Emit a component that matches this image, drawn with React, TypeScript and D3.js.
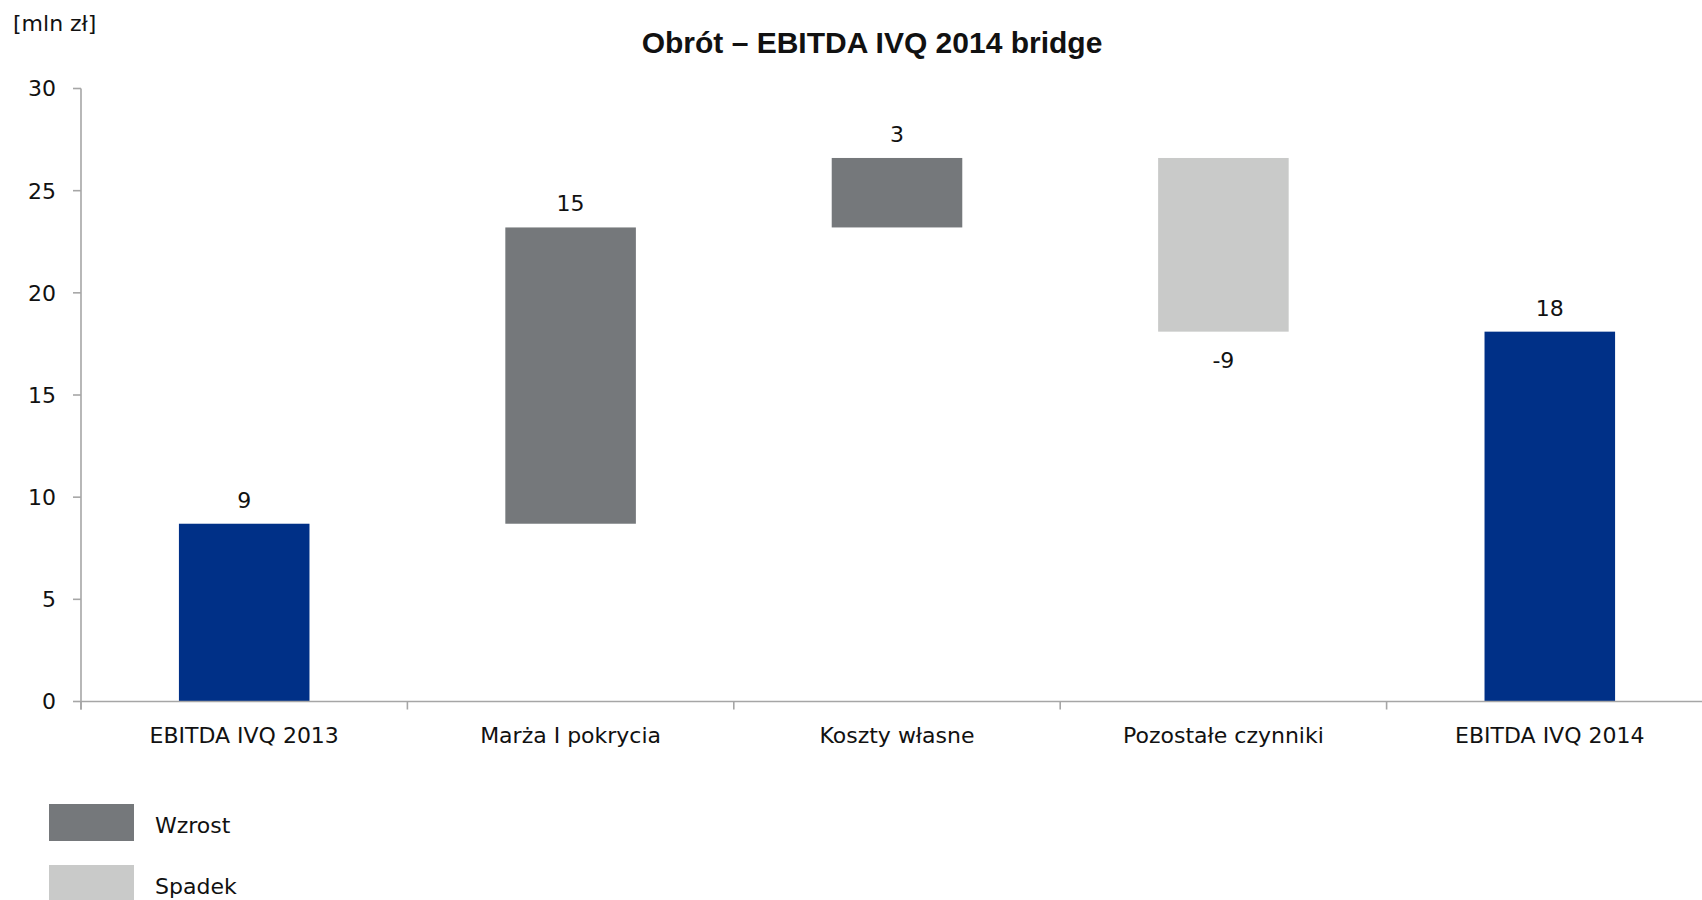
import React from "react";
import * as d3 from "d3";

// Bridge steps: opening total, changes, closing total (mln zł)
const categories = [
  "EBITDA IVQ 2013",
  "Marża I pokrycia",
  "Koszty własne",
  "Pozostałe czynniki",
  "EBITDA IVQ 2014",
];
const stepKinds = ["total", "delta", "delta", "delta", "total"];
const stepValues = [8.7, 14.5, 3.4, -8.5, 18.1];
const yTickValues = [0, 5, 10, 15, 20, 25, 30];
const legendItems = ["Wzrost", "Spadek"];

const W = 1702;
const H = 900;
const FONT = "'DejaVu Sans', 'Noto Sans', sans-serif";
const TITLE_FONT = "'Liberation Sans', Arial, sans-serif";
const COLORS = {
  total: "#003087",
  up: "#75787B",
  down: "#C9CAC9",
  axis: "#A6A6A6",
  text: "#111111",
};

// Excel-style rounding (half away from zero) for the value labels
const fmt = (v: number) => String(Math.sign(v) * Math.round(Math.abs(v)));

export default function App() {
  const margin = { left: 81, right: W + 11, top: 88.5, bottom: 701.5 };

  const x = d3
    .scaleBand<string>()
    .domain(categories)
    .range([margin.left, margin.right])
    .paddingInner(0.6)
    .paddingOuter(0.3);

  const y = d3.scaleLinear().domain([0, 30]).range([margin.bottom, margin.top]);

  // Running sums give each floating bar its start and end
  let running = 0;
  const bars = categories.map((c, i) => {
    const kind = stepKinds[i];
    const v = stepValues[i];
    let y0: number, y1: number;
    if (kind === "total") {
      y0 = 0;
      y1 = v;
      running = v;
    } else {
      y0 = running;
      y1 = running + v;
      running = y1;
    }
    const fill = kind === "total" ? COLORS.total : v >= 0 ? COLORS.up : COLORS.down;
    return { c, kind, v, y0, y1, fill };
  });

  const step = x.step();
  const boundaries = d3.range(categories.length + 1).map(
    (i) => margin.left + i * step
  );

  const fs = 22;

  return (
    <svg
      width={W}
      height={H}
      style={{ position: "absolute", left: 0, top: 0, background: "#fff" }}
      fontFamily={FONT}
    >
      <rect x={0} y={0} width={W} height={H} fill="#fff" />

      {/* unit label and title */}
      <text x={13} y={31} fontSize={fs} fill={COLORS.text}>
        [mln zł]
      </text>
      <text
        x={872}
        y={53}
        fontSize={30}
        fontFamily={TITLE_FONT}
        fontWeight="bold"
        textAnchor="middle"
        fill={COLORS.text}
      >
        Obrót – EBITDA IVQ 2014 bridge
      </text>

      {/* y axis */}
      <line
        x1={margin.left}
        x2={margin.left}
        y1={y(30)}
        y2={y(0) + 8}
        stroke={COLORS.axis}
        strokeWidth={1.6}
      />
      {yTickValues.map((t) => (
        <g key={t}>
          <line
            x1={margin.left - 8}
            x2={margin.left}
            y1={y(t)}
            y2={y(t)}
            stroke={COLORS.axis}
            strokeWidth={1.6}
          />
          <text
            x={margin.left - 25}
            y={y(t)}
            dy="0.36em"
            fontSize={fs}
            textAnchor="end"
            fill={COLORS.text}
          >
            {t}
          </text>
        </g>
      ))}

      {/* bars */}
      {bars.map((b) => {
        const top = y(Math.max(b.y0, b.y1));
        const bottom = y(Math.min(b.y0, b.y1));
        return (
          <rect
            key={b.c}
            x={x(b.c)}
            y={top}
            width={x.bandwidth()}
            height={bottom - top}
            fill={b.fill}
          />
        );
      })}

      {/* x axis */}
      <line
        x1={margin.left}
        x2={W}
        y1={y(0)}
        y2={y(0)}
        stroke={COLORS.axis}
        strokeWidth={1.6}
      />
      {boundaries.map((bx, i) => (
        <line
          key={i}
          x1={bx}
          x2={bx}
          y1={y(0)}
          y2={y(0) + 8}
          stroke={COLORS.axis}
          strokeWidth={1.6}
        />
      ))}
      {categories.map((c) => (
        <text
          key={c}
          x={(x(c) as number) + x.bandwidth() / 2}
          y={743}
          fontSize={fs}
          textAnchor="middle"
          fill={COLORS.text}
        >
          {c}
        </text>
      ))}

      {/* value labels */}
      {bars.map((b) => {
        const cx = (x(b.c) as number) + x.bandwidth() / 2;
        const ly =
          b.v >= 0 ? y(Math.max(b.y0, b.y1)) - 16 : y(Math.min(b.y0, b.y1)) + 36;
        return (
          <text
            key={b.c}
            x={cx}
            y={ly}
            fontSize={fs}
            textAnchor="middle"
            fill={COLORS.text}
          >
            {fmt(b.v)}
          </text>
        );
      })}

      {/* legend */}
      {legendItems.map((label, i) => (
        <g key={label} transform={`translate(49, ${804 + i * 61})`}>
          <rect
            width={85}
            height={37}
            fill={i === 0 ? COLORS.up : COLORS.down}
          />
          <text x={106} y={29} fontSize={fs} fill={COLORS.text}>
            {label}
          </text>
        </g>
      ))}
    </svg>
  );
}
